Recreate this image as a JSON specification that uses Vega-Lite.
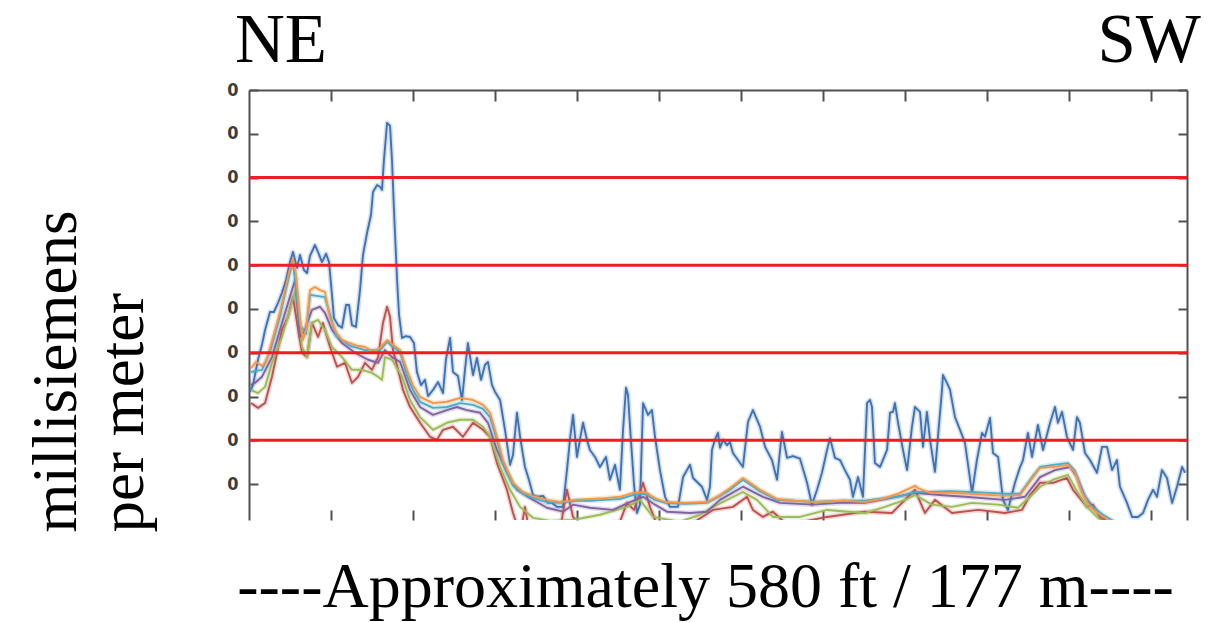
{
  "$schema": "https://vega.github.io/schema/vega-lite/v6.json",
  "width": 938,
  "height": 430,
  "autosize": {"type": "none"},
  "padding": {"left": 249, "top": 90, "right": 22, "bottom": 102},
  "background": "white",
  "config": {"view": {"stroke": null}, "axis": {"grid": false}},
  "resolve": {"axis": {"x": "independent", "y": "independent"}},
  "datasets": {
    "lines": [
      {"ch":"Channel 1","ft":0.6,"ms":31.1},{"ch":"Channel 1","ft":2.4,"ms":32.6},{"ch":"Channel 1","ft":5.5,"ms":38.4},{"ch":"Channel 1","ft":7.9,"ms":41.8},{"ch":"Channel 1","ft":9.8,"ms":45.2},{"ch":"Channel 1","ft":12.8,"ms":49.3},{"ch":"Channel 1","ft":15.2,"ms":49.3},{"ch":"Channel 1","ft":17.7,"ms":51.4},{"ch":"Channel 1","ft":20.1,"ms":53.7},{"ch":"Channel 1","ft":22.6,"ms":56.6},{"ch":"Channel 1","ft":25.0,"ms":60.7},{"ch":"Channel 1","ft":26.8,"ms":63.0},{"ch":"Channel 1","ft":29.3,"ms":59.4},{"ch":"Channel 1","ft":31.1,"ms":62.3},{"ch":"Channel 1","ft":33.5,"ms":58.9},{"ch":"Channel 1","ft":35.4,"ms":58.2},{"ch":"Channel 1","ft":37.2,"ms":62.1},{"ch":"Channel 1","ft":40.2,"ms":64.6},{"ch":"Channel 1","ft":42.1,"ms":63.0},{"ch":"Channel 1","ft":44.5,"ms":60.7},{"ch":"Channel 1","ft":47.0,"ms":62.6},{"ch":"Channel 1","ft":48.8,"ms":60.7},{"ch":"Channel 1","ft":50.6,"ms":53.2},{"ch":"Channel 1","ft":51.8,"ms":47.9},{"ch":"Channel 1","ft":54.3,"ms":46.3},{"ch":"Channel 1","ft":56.7,"ms":45.7},{"ch":"Channel 1","ft":59.2,"ms":50.9},{"ch":"Channel 1","ft":61.0,"ms":50.9},{"ch":"Channel 1","ft":62.8,"ms":46.3},{"ch":"Channel 1","ft":65.2,"ms":45.9},{"ch":"Channel 1","ft":67.7,"ms":54.3},{"ch":"Channel 1","ft":69.5,"ms":62.3},{"ch":"Channel 1","ft":72.0,"ms":67.4},{"ch":"Channel 1","ft":74.4,"ms":71.5},{"ch":"Channel 1","ft":75.6,"ms":76.7},{"ch":"Channel 1","ft":78.1,"ms":78.3},{"ch":"Channel 1","ft":79.9,"ms":77.9},{"ch":"Channel 1","ft":81.1,"ms":77.2},{"ch":"Channel 1","ft":82.3,"ms":84.0},{"ch":"Channel 1","ft":84.2,"ms":92.5},{"ch":"Channel 1","ft":86.0,"ms":91.8},{"ch":"Channel 1","ft":87.2,"ms":84.0},{"ch":"Channel 1","ft":88.4,"ms":72.6},{"ch":"Channel 1","ft":90.3,"ms":56.6},{"ch":"Channel 1","ft":91.5,"ms":48.6},{"ch":"Channel 1","ft":93.3,"ms":43.4},{"ch":"Channel 1","ft":95.7,"ms":43.8},{"ch":"Channel 1","ft":98.2,"ms":43.6},{"ch":"Channel 1","ft":100.6,"ms":42.2},{"ch":"Channel 1","ft":102.4,"ms":35.6},{"ch":"Channel 1","ft":104.9,"ms":32.6},{"ch":"Channel 1","ft":107.3,"ms":33.8},{"ch":"Channel 1","ft":109.2,"ms":30.1},{"ch":"Channel 1","ft":112.2,"ms":31.5},{"ch":"Channel 1","ft":115.3,"ms":33.3},{"ch":"Channel 1","ft":118.3,"ms":30.8},{"ch":"Channel 1","ft":120.1,"ms":38.4},{"ch":"Channel 1","ft":122.6,"ms":43.4},{"ch":"Channel 1","ft":124.4,"ms":35.6},{"ch":"Channel 1","ft":127.4,"ms":34.7},{"ch":"Channel 1","ft":129.9,"ms":29.2},{"ch":"Channel 1","ft":131.7,"ms":36.1},{"ch":"Channel 1","ft":133.5,"ms":42.2},{"ch":"Channel 1","ft":136.6,"ms":34.9},{"ch":"Channel 1","ft":139.0,"ms":38.8},{"ch":"Channel 1","ft":141.5,"ms":33.8},{"ch":"Channel 1","ft":143.9,"ms":37.2},{"ch":"Channel 1","ft":145.7,"ms":37.9},{"ch":"Channel 1","ft":148.2,"ms":32.6},{"ch":"Channel 1","ft":150.0,"ms":31.1},{"ch":"Channel 1","ft":153.1,"ms":29.2},{"ch":"Channel 1","ft":156.1,"ms":22.4},{"ch":"Channel 1","ft":159.2,"ms":14.4},{"ch":"Channel 1","ft":161.0,"ms":16.7},{"ch":"Channel 1","ft":163.4,"ms":26.3},{"ch":"Channel 1","ft":165.3,"ms":20.8},{"ch":"Channel 1","ft":168.3,"ms":13.9},{"ch":"Channel 1","ft":170.7,"ms":11.0},{"ch":"Channel 1","ft":173.2,"ms":7.5},{"ch":"Channel 1","ft":176.2,"ms":7.1},{"ch":"Channel 1","ft":179.3,"ms":7.3},{"ch":"Channel 1","ft":182.3,"ms":5.7},{"ch":"Channel 1","ft":184.8,"ms":5.7},{"ch":"Channel 1","ft":187.8,"ms":4.8},{"ch":"Channel 1","ft":191.5,"ms":4.8},{"ch":"Channel 1","ft":193.9,"ms":13.2},{"ch":"Channel 1","ft":195.7,"ms":20.1},{"ch":"Channel 1","ft":197.6,"ms":25.8},{"ch":"Channel 1","ft":200.0,"ms":16.2},{"ch":"Channel 1","ft":201.8,"ms":20.1},{"ch":"Channel 1","ft":203.7,"ms":24.0},{"ch":"Channel 1","ft":206.1,"ms":20.1},{"ch":"Channel 1","ft":207.9,"ms":17.8},{"ch":"Channel 1","ft":211.0,"ms":16.2},{"ch":"Channel 1","ft":214.0,"ms":13.9},{"ch":"Channel 1","ft":217.7,"ms":16.2},{"ch":"Channel 1","ft":220.1,"ms":11.0},{"ch":"Channel 1","ft":223.2,"ms":14.4},{"ch":"Channel 1","ft":226.2,"ms":8.7},{"ch":"Channel 1","ft":228.1,"ms":22.4},{"ch":"Channel 1","ft":229.9,"ms":32.0},{"ch":"Channel 1","ft":231.1,"ms":30.4},{"ch":"Channel 1","ft":232.9,"ms":20.1},{"ch":"Channel 1","ft":234.8,"ms":9.8},{"ch":"Channel 1","ft":236.6,"ms":3.4},{"ch":"Channel 1","ft":238.4,"ms":5.3},{"ch":"Channel 1","ft":240.3,"ms":28.5},{"ch":"Channel 1","ft":243.3,"ms":25.8},{"ch":"Channel 1","ft":245.7,"ms":26.9},{"ch":"Channel 1","ft":247.6,"ms":20.8},{"ch":"Channel 1","ft":250.6,"ms":13.2},{"ch":"Channel 1","ft":253.7,"ms":7.1},{"ch":"Channel 1","ft":256.7,"ms":4.8},{"ch":"Channel 1","ft":261.6,"ms":4.8},{"ch":"Channel 1","ft":264.7,"ms":11.6},{"ch":"Channel 1","ft":268.9,"ms":14.4},{"ch":"Channel 1","ft":270.8,"ms":11.4},{"ch":"Channel 1","ft":276.2,"ms":9.4},{"ch":"Channel 1","ft":279.3,"ms":6.4},{"ch":"Channel 1","ft":281.1,"ms":9.4},{"ch":"Channel 1","ft":282.3,"ms":17.8},{"ch":"Channel 1","ft":284.1,"ms":20.1},{"ch":"Channel 1","ft":286.0,"ms":21.7},{"ch":"Channel 1","ft":287.2,"ms":18.3},{"ch":"Channel 1","ft":289.1,"ms":20.1},{"ch":"Channel 1","ft":291.5,"ms":18.9},{"ch":"Channel 1","ft":293.3,"ms":19.6},{"ch":"Channel 1","ft":295.1,"ms":17.1},{"ch":"Channel 1","ft":298.2,"ms":15.5},{"ch":"Channel 1","ft":301.2,"ms":13.9},{"ch":"Channel 1","ft":304.3,"ms":24.2},{"ch":"Channel 1","ft":307.3,"ms":26.9},{"ch":"Channel 1","ft":311.6,"ms":23.1},{"ch":"Channel 1","ft":314.7,"ms":18.5},{"ch":"Channel 1","ft":318.9,"ms":15.5},{"ch":"Channel 1","ft":322.0,"ms":11.0},{"ch":"Channel 1","ft":325.0,"ms":21.9},{"ch":"Channel 1","ft":328.1,"ms":16.0},{"ch":"Channel 1","ft":331.7,"ms":16.4},{"ch":"Channel 1","ft":336.0,"ms":15.8},{"ch":"Channel 1","ft":340.3,"ms":10.3},{"ch":"Channel 1","ft":343.3,"ms":5.3},{"ch":"Channel 1","ft":346.4,"ms":8.7},{"ch":"Channel 1","ft":349.4,"ms":12.6},{"ch":"Channel 1","ft":352.5,"ms":17.8},{"ch":"Channel 1","ft":354.3,"ms":20.5},{"ch":"Channel 1","ft":357.3,"ms":16.0},{"ch":"Channel 1","ft":360.4,"ms":15.5},{"ch":"Channel 1","ft":363.4,"ms":13.2},{"ch":"Channel 1","ft":366.5,"ms":11.0},{"ch":"Channel 1","ft":368.3,"ms":7.1},{"ch":"Channel 1","ft":371.4,"ms":11.6},{"ch":"Channel 1","ft":374.4,"ms":7.1},{"ch":"Channel 1","ft":376.9,"ms":28.5},{"ch":"Channel 1","ft":378.7,"ms":29.2},{"ch":"Channel 1","ft":379.9,"ms":27.6},{"ch":"Channel 1","ft":381.7,"ms":14.8},{"ch":"Channel 1","ft":384.8,"ms":13.9},{"ch":"Channel 1","ft":389.1,"ms":17.8},{"ch":"Channel 1","ft":390.9,"ms":26.3},{"ch":"Channel 1","ft":392.7,"ms":26.5},{"ch":"Channel 1","ft":393.9,"ms":28.5},{"ch":"Channel 1","ft":395.8,"ms":24.0},{"ch":"Channel 1","ft":398.8,"ms":17.8},{"ch":"Channel 1","ft":401.3,"ms":13.2},{"ch":"Channel 1","ft":404.3,"ms":23.1},{"ch":"Channel 1","ft":406.1,"ms":27.6},{"ch":"Channel 1","ft":409.2,"ms":26.5},{"ch":"Channel 1","ft":411.0,"ms":18.5},{"ch":"Channel 1","ft":413.4,"ms":26.5},{"ch":"Channel 1","ft":415.3,"ms":20.1},{"ch":"Channel 1","ft":418.3,"ms":12.8},{"ch":"Channel 1","ft":422.6,"ms":31.5},{"ch":"Channel 1","ft":423.2,"ms":34.9},{"ch":"Channel 1","ft":425.6,"ms":33.1},{"ch":"Channel 1","ft":427.5,"ms":31.5},{"ch":"Channel 1","ft":430.5,"ms":25.3},{"ch":"Channel 1","ft":433.6,"ms":22.4},{"ch":"Channel 1","ft":436.6,"ms":19.4},{"ch":"Channel 1","ft":440.9,"ms":8.0},{"ch":"Channel 1","ft":443.9,"ms":15.5},{"ch":"Channel 1","ft":447.0,"ms":21.7},{"ch":"Channel 1","ft":448.8,"ms":20.8},{"ch":"Channel 1","ft":451.9,"ms":25.1},{"ch":"Channel 1","ft":453.7,"ms":17.1},{"ch":"Channel 1","ft":456.8,"ms":16.2},{"ch":"Channel 1","ft":459.8,"ms":6.4},{"ch":"Channel 1","ft":462.8,"ms":4.1},{"ch":"Channel 1","ft":467.1,"ms":10.3},{"ch":"Channel 1","ft":470.2,"ms":13.9},{"ch":"Channel 1","ft":472.0,"ms":15.5},{"ch":"Channel 1","ft":475.0,"ms":21.7},{"ch":"Channel 1","ft":477.5,"ms":16.2},{"ch":"Channel 1","ft":481.1,"ms":23.5},{"ch":"Channel 1","ft":484.2,"ms":17.8},{"ch":"Channel 1","ft":488.5,"ms":24.0},{"ch":"Channel 1","ft":491.5,"ms":27.6},{"ch":"Channel 1","ft":493.3,"ms":24.0},{"ch":"Channel 1","ft":495.8,"ms":26.5},{"ch":"Channel 1","ft":498.8,"ms":20.8},{"ch":"Channel 1","ft":502.5,"ms":17.8},{"ch":"Channel 1","ft":504.9,"ms":25.3},{"ch":"Channel 1","ft":506.7,"ms":24.0},{"ch":"Channel 1","ft":509.8,"ms":17.1},{"ch":"Channel 1","ft":512.8,"ms":15.5},{"ch":"Channel 1","ft":517.1,"ms":12.6},{"ch":"Channel 1","ft":520.2,"ms":18.5},{"ch":"Channel 1","ft":523.2,"ms":18.5},{"ch":"Channel 1","ft":526.3,"ms":13.2},{"ch":"Channel 1","ft":529.3,"ms":15.5},{"ch":"Channel 1","ft":531.1,"ms":9.4},{"ch":"Channel 1","ft":535.4,"ms":5.7},{"ch":"Channel 1","ft":538.5,"ms":2.5},{"ch":"Channel 1","ft":542.1,"ms":2.5},{"ch":"Channel 1","ft":545.2,"ms":3.4},{"ch":"Channel 1","ft":548.2,"ms":6.4},{"ch":"Channel 1","ft":551.3,"ms":8.7},{"ch":"Channel 1","ft":553.7,"ms":7.1},{"ch":"Channel 1","ft":556.7,"ms":13.2},{"ch":"Channel 1","ft":559.8,"ms":11.4},{"ch":"Channel 1","ft":562.9,"ms":5.7},{"ch":"Channel 1","ft":565.9,"ms":9.4},{"ch":"Channel 1","ft":569.0,"ms":13.9},{"ch":"Channel 1","ft":570.8,"ms":12.6},

      {"ch":"Channel 2","ft":1.2,"ms":28.5},{"ch":"Channel 2","ft":5.5,"ms":27.4},{"ch":"Channel 2","ft":9.8,"ms":28.5},{"ch":"Channel 2","ft":14.0,"ms":34.5},{"ch":"Channel 2","ft":20.1,"ms":45.2},{"ch":"Channel 2","ft":23.8,"ms":48.2},{"ch":"Channel 2","ft":26.8,"ms":52.7},{"ch":"Channel 2","ft":29.3,"ms":46.8},{"ch":"Channel 2","ft":32.3,"ms":40.0},{"ch":"Channel 2","ft":35.4,"ms":39.0},{"ch":"Channel 2","ft":38.4,"ms":46.8},{"ch":"Channel 2","ft":42.1,"ms":43.6},{"ch":"Channel 2","ft":45.1,"ms":46.8},{"ch":"Channel 2","ft":49.4,"ms":41.3},{"ch":"Channel 2","ft":53.7,"ms":36.8},{"ch":"Channel 2","ft":58.5,"ms":37.7},{"ch":"Channel 2","ft":62.8,"ms":33.1},{"ch":"Channel 2","ft":66.5,"ms":34.5},{"ch":"Channel 2","ft":70.7,"ms":37.7},{"ch":"Channel 2","ft":75.0,"ms":36.1},{"ch":"Channel 2","ft":78.7,"ms":39.0},{"ch":"Channel 2","ft":81.7,"ms":46.8},{"ch":"Channel 2","ft":84.2,"ms":50.5},{"ch":"Channel 2","ft":86.0,"ms":48.2},{"ch":"Channel 2","ft":87.8,"ms":40.6},{"ch":"Channel 2","ft":90.9,"ms":36.1},{"ch":"Channel 2","ft":93.9,"ms":31.5},{"ch":"Channel 2","ft":98.2,"ms":27.6},{"ch":"Channel 2","ft":104.3,"ms":24.0},{"ch":"Channel 2","ft":110.4,"ms":20.8},{"ch":"Channel 2","ft":114.6,"ms":20.1},{"ch":"Channel 2","ft":118.3,"ms":22.4},{"ch":"Channel 2","ft":124.4,"ms":23.1},{"ch":"Channel 2","ft":130.5,"ms":20.8},{"ch":"Channel 2","ft":136.6,"ms":24.0},{"ch":"Channel 2","ft":142.7,"ms":22.4},{"ch":"Channel 2","ft":147.0,"ms":20.8},{"ch":"Channel 2","ft":151.2,"ms":14.8},{"ch":"Channel 2","ft":157.3,"ms":8.7},{"ch":"Channel 2","ft":161.0,"ms":3.4},{"ch":"Channel 2","ft":163.4,"ms":0.7},{"ch":"Channel 2","ft":165.9,"ms":-0.5},{"ch":"Channel 2","ft":168.3,"ms":4.8},{"ch":"Channel 2","ft":170.7,"ms":-0.5},{"ch":"Channel 2","ft":189.6,"ms":-0.9},{"ch":"Channel 2","ft":192.7,"ms":6.4},{"ch":"Channel 2","ft":193.9,"ms":8.7},{"ch":"Channel 2","ft":197.6,"ms":2.5},{"ch":"Channel 2","ft":201.8,"ms":0.7},{"ch":"Channel 2","ft":226.2,"ms":1.4},{"ch":"Channel 2","ft":230.5,"ms":5.7},{"ch":"Channel 2","ft":234.8,"ms":4.1},{"ch":"Channel 2","ft":240.3,"ms":10.3},{"ch":"Channel 2","ft":244.5,"ms":4.8},{"ch":"Channel 2","ft":248.8,"ms":0.7},{"ch":"Channel 2","ft":268.9,"ms":0.7},{"ch":"Channel 2","ft":283.0,"ms":4.1},{"ch":"Channel 2","ft":295.1,"ms":4.8},{"ch":"Channel 2","ft":303.7,"ms":7.1},{"ch":"Channel 2","ft":307.3,"ms":4.1},{"ch":"Channel 2","ft":313.4,"ms":2.5},{"ch":"Channel 2","ft":319.5,"ms":3.7},{"ch":"Channel 2","ft":328.1,"ms":0.7},{"ch":"Channel 2","ft":352.5,"ms":2.5},{"ch":"Channel 2","ft":375.6,"ms":3.7},{"ch":"Channel 2","ft":392.1,"ms":3.4},{"ch":"Channel 2","ft":406.1,"ms":8.7},{"ch":"Channel 2","ft":412.2,"ms":3.4},{"ch":"Channel 2","ft":418.3,"ms":6.4},{"ch":"Channel 2","ft":428.7,"ms":3.4},{"ch":"Channel 2","ft":444.6,"ms":4.1},{"ch":"Channel 2","ft":461.0,"ms":3.4},{"ch":"Channel 2","ft":471.4,"ms":4.1},{"ch":"Channel 2","ft":476.3,"ms":7.5},{"ch":"Channel 2","ft":482.4,"ms":10.3},{"ch":"Channel 2","ft":490.3,"ms":10.3},{"ch":"Channel 2","ft":498.8,"ms":11.4},{"ch":"Channel 2","ft":502.5,"ms":8.7},{"ch":"Channel 2","ft":511.0,"ms":4.8},{"ch":"Channel 2","ft":514.7,"ms":5.3},{"ch":"Channel 2","ft":518.9,"ms":2.5},{"ch":"Channel 2","ft":523.2,"ms":0.2},

      {"ch":"Channel 3","ft":1.2,"ms":31.5},{"ch":"Channel 3","ft":5.5,"ms":30.8},{"ch":"Channel 3","ft":9.8,"ms":32.2},{"ch":"Channel 3","ft":14.0,"ms":37.7},{"ch":"Channel 3","ft":20.1,"ms":43.6},{"ch":"Channel 3","ft":26.2,"ms":51.4},{"ch":"Channel 3","ft":28.1,"ms":54.3},{"ch":"Channel 3","ft":32.3,"ms":41.3},{"ch":"Channel 3","ft":35.4,"ms":39.0},{"ch":"Channel 3","ft":38.4,"ms":46.8},{"ch":"Channel 3","ft":42.1,"ms":47.5},{"ch":"Channel 3","ft":46.3,"ms":45.2},{"ch":"Channel 3","ft":50.6,"ms":41.3},{"ch":"Channel 3","ft":56.7,"ms":39.0},{"ch":"Channel 3","ft":62.8,"ms":36.1},{"ch":"Channel 3","ft":68.9,"ms":36.1},{"ch":"Channel 3","ft":75.0,"ms":35.4},{"ch":"Channel 3","ft":78.7,"ms":34.5},{"ch":"Channel 3","ft":81.1,"ms":33.8},{"ch":"Channel 3","ft":82.9,"ms":39.0},{"ch":"Channel 3","ft":87.2,"ms":38.4},{"ch":"Channel 3","ft":93.3,"ms":34.5},{"ch":"Channel 3","ft":98.2,"ms":29.2},{"ch":"Channel 3","ft":104.3,"ms":25.3},{"ch":"Channel 3","ft":112.2,"ms":22.4},{"ch":"Channel 3","ft":120.7,"ms":24.0},{"ch":"Channel 3","ft":128.7,"ms":24.7},{"ch":"Channel 3","ft":136.6,"ms":24.7},{"ch":"Channel 3","ft":142.7,"ms":23.1},{"ch":"Channel 3","ft":147.0,"ms":20.8},{"ch":"Channel 3","ft":153.1,"ms":13.9},{"ch":"Channel 3","ft":159.2,"ms":8.7},{"ch":"Channel 3","ft":165.3,"ms":4.8},{"ch":"Channel 3","ft":173.2,"ms":2.3},{"ch":"Channel 3","ft":183.6,"ms":1.6},{"ch":"Channel 3","ft":197.6,"ms":1.8},{"ch":"Channel 3","ft":214.0,"ms":3.0},{"ch":"Channel 3","ft":230.5,"ms":4.8},{"ch":"Channel 3","ft":238.4,"ms":6.4},{"ch":"Channel 3","ft":246.4,"ms":2.5},{"ch":"Channel 3","ft":262.8,"ms":1.4},{"ch":"Channel 3","ft":275.0,"ms":3.0},{"ch":"Channel 3","ft":283.0,"ms":4.8},{"ch":"Channel 3","ft":301.2,"ms":8.2},{"ch":"Channel 3","ft":309.8,"ms":6.4},{"ch":"Channel 3","ft":319.5,"ms":2.5},{"ch":"Channel 3","ft":336.0,"ms":2.5},{"ch":"Channel 3","ft":352.5,"ms":4.1},{"ch":"Channel 3","ft":375.6,"ms":3.4},{"ch":"Channel 3","ft":387.8,"ms":4.8},{"ch":"Channel 3","ft":400.0,"ms":6.4},{"ch":"Channel 3","ft":406.1,"ms":7.5},{"ch":"Channel 3","ft":416.5,"ms":5.3},{"ch":"Channel 3","ft":428.7,"ms":4.8},{"ch":"Channel 3","ft":440.9,"ms":5.7},{"ch":"Channel 3","ft":456.8,"ms":5.3},{"ch":"Channel 3","ft":468.9,"ms":4.6},{"ch":"Channel 3","ft":476.3,"ms":7.1},{"ch":"Channel 3","ft":482.4,"ms":9.4},{"ch":"Channel 3","ft":490.3,"ms":11.0},{"ch":"Channel 3","ft":499.4,"ms":12.1},{"ch":"Channel 3","ft":505.5,"ms":8.0},{"ch":"Channel 3","ft":511.0,"ms":4.8},{"ch":"Channel 3","ft":517.1,"ms":2.5},{"ch":"Channel 3","ft":523.2,"ms":0.7},

      {"ch":"Channel 4","ft":1.2,"ms":32.6},{"ch":"Channel 4","ft":4.3,"ms":33.3},{"ch":"Channel 4","ft":7.9,"ms":34.5},{"ch":"Channel 4","ft":14.0,"ms":39.0},{"ch":"Channel 4","ft":20.1,"ms":46.8},{"ch":"Channel 4","ft":26.2,"ms":54.3},{"ch":"Channel 4","ft":28.1,"ms":56.6},{"ch":"Channel 4","ft":31.1,"ms":43.6},{"ch":"Channel 4","ft":34.1,"ms":45.2},{"ch":"Channel 4","ft":38.4,"ms":49.8},{"ch":"Channel 4","ft":43.3,"ms":50.5},{"ch":"Channel 4","ft":46.3,"ms":49.1},{"ch":"Channel 4","ft":50.6,"ms":45.2},{"ch":"Channel 4","ft":56.7,"ms":42.2},{"ch":"Channel 4","ft":64.6,"ms":40.0},{"ch":"Channel 4","ft":72.6,"ms":38.4},{"ch":"Channel 4","ft":78.7,"ms":37.7},{"ch":"Channel 4","ft":82.9,"ms":40.6},{"ch":"Channel 4","ft":87.2,"ms":39.0},{"ch":"Channel 4","ft":92.1,"ms":37.9},{"ch":"Channel 4","ft":98.2,"ms":31.5},{"ch":"Channel 4","ft":104.3,"ms":27.6},{"ch":"Channel 4","ft":112.2,"ms":25.8},{"ch":"Channel 4","ft":120.7,"ms":26.9},{"ch":"Channel 4","ft":126.8,"ms":27.6},{"ch":"Channel 4","ft":132.9,"ms":26.9},{"ch":"Channel 4","ft":140.9,"ms":26.3},{"ch":"Channel 4","ft":145.7,"ms":24.0},{"ch":"Channel 4","ft":151.2,"ms":17.8},{"ch":"Channel 4","ft":157.3,"ms":12.6},{"ch":"Channel 4","ft":163.4,"ms":8.7},{"ch":"Channel 4","ft":171.4,"ms":6.8},{"ch":"Channel 4","ft":181.7,"ms":4.6},{"ch":"Channel 4","ft":191.5,"ms":3.7},{"ch":"Channel 4","ft":197.6,"ms":5.3},{"ch":"Channel 4","ft":207.9,"ms":4.6},{"ch":"Channel 4","ft":222.0,"ms":4.1},{"ch":"Channel 4","ft":232.3,"ms":5.9},{"ch":"Channel 4","ft":240.3,"ms":7.1},{"ch":"Channel 4","ft":247.6,"ms":5.3},{"ch":"Channel 4","ft":254.9,"ms":3.7},{"ch":"Channel 4","ft":268.9,"ms":3.4},{"ch":"Channel 4","ft":279.3,"ms":3.7},{"ch":"Channel 4","ft":287.2,"ms":6.4},{"ch":"Channel 4","ft":301.2,"ms":9.4},{"ch":"Channel 4","ft":313.4,"ms":7.1},{"ch":"Channel 4","ft":323.8,"ms":5.7},{"ch":"Channel 4","ft":343.9,"ms":5.3},{"ch":"Channel 4","ft":360.4,"ms":5.7},{"ch":"Channel 4","ft":375.6,"ms":5.7},{"ch":"Channel 4","ft":390.9,"ms":6.8},{"ch":"Channel 4","ft":406.1,"ms":8.0},{"ch":"Channel 4","ft":421.4,"ms":7.5},{"ch":"Channel 4","ft":436.6,"ms":7.1},{"ch":"Channel 4","ft":461.0,"ms":6.4},{"ch":"Channel 4","ft":473.2,"ms":7.1},{"ch":"Channel 4","ft":482.4,"ms":11.6},{"ch":"Channel 4","ft":491.5,"ms":13.2},{"ch":"Channel 4","ft":500.7,"ms":13.9},{"ch":"Channel 4","ft":504.9,"ms":11.6},{"ch":"Channel 4","ft":509.8,"ms":7.1},{"ch":"Channel 4","ft":515.9,"ms":4.1},{"ch":"Channel 4","ft":522.0,"ms":1.8},{"ch":"Channel 4","ft":528.1,"ms":0.2},

      {"ch":"Channel 5","ft":1.2,"ms":35.6},{"ch":"Channel 5","ft":7.9,"ms":36.1},{"ch":"Channel 5","ft":12.8,"ms":40.2},{"ch":"Channel 5","ft":18.9,"ms":48.4},{"ch":"Channel 5","ft":24.4,"ms":57.5},{"ch":"Channel 5","ft":26.8,"ms":60.7},{"ch":"Channel 5","ft":31.1,"ms":46.3},{"ch":"Channel 5","ft":34.8,"ms":44.3},{"ch":"Channel 5","ft":37.2,"ms":53.2},{"ch":"Channel 5","ft":46.3,"ms":52.7},{"ch":"Channel 5","ft":53.1,"ms":43.8},{"ch":"Channel 5","ft":61.6,"ms":41.6},{"ch":"Channel 5","ft":70.7,"ms":40.6},{"ch":"Channel 5","ft":79.9,"ms":40.6},{"ch":"Channel 5","ft":84.2,"ms":42.5},{"ch":"Channel 5","ft":87.8,"ms":41.3},{"ch":"Channel 5","ft":92.1,"ms":40.2},{"ch":"Channel 5","ft":96.3,"ms":34.9},{"ch":"Channel 5","ft":100.0,"ms":31.5},{"ch":"Channel 5","ft":104.3,"ms":28.8},{"ch":"Channel 5","ft":112.2,"ms":27.4},{"ch":"Channel 5","ft":120.7,"ms":27.6},{"ch":"Channel 5","ft":128.7,"ms":28.5},{"ch":"Channel 5","ft":136.6,"ms":28.1},{"ch":"Channel 5","ft":142.7,"ms":27.2},{"ch":"Channel 5","ft":147.0,"ms":25.3},{"ch":"Channel 5","ft":151.2,"ms":20.1},{"ch":"Channel 5","ft":154.9,"ms":14.8},{"ch":"Channel 5","ft":161.0,"ms":9.6},{"ch":"Channel 5","ft":167.1,"ms":7.8},{"ch":"Channel 5","ft":173.2,"ms":6.8},{"ch":"Channel 5","ft":181.7,"ms":5.9},{"ch":"Channel 5","ft":189.6,"ms":5.7},{"ch":"Channel 5","ft":198.8,"ms":6.2},{"ch":"Channel 5","ft":207.9,"ms":6.2},{"ch":"Channel 5","ft":217.1,"ms":6.4},{"ch":"Channel 5","ft":226.2,"ms":6.6},{"ch":"Channel 5","ft":234.2,"ms":7.5},{"ch":"Channel 5","ft":241.5,"ms":7.8},{"ch":"Channel 5","ft":247.6,"ms":6.4},{"ch":"Channel 5","ft":253.7,"ms":5.7},{"ch":"Channel 5","ft":265.9,"ms":5.5},{"ch":"Channel 5","ft":279.3,"ms":5.7},{"ch":"Channel 5","ft":287.2,"ms":7.3},{"ch":"Channel 5","ft":293.3,"ms":8.7},{"ch":"Channel 5","ft":301.2,"ms":11.0},{"ch":"Channel 5","ft":311.6,"ms":8.4},{"ch":"Channel 5","ft":322.0,"ms":6.4},{"ch":"Channel 5","ft":345.2,"ms":5.9},{"ch":"Channel 5","ft":362.2,"ms":6.2},{"ch":"Channel 5","ft":375.6,"ms":6.2},{"ch":"Channel 5","ft":395.8,"ms":7.1},{"ch":"Channel 5","ft":406.1,"ms":8.2},{"ch":"Channel 5","ft":415.3,"ms":8.2},{"ch":"Channel 5","ft":427.5,"ms":8.4},{"ch":"Channel 5","ft":439.7,"ms":8.2},{"ch":"Channel 5","ft":451.9,"ms":8.0},{"ch":"Channel 5","ft":461.0,"ms":7.8},{"ch":"Channel 5","ft":470.2,"ms":7.8},{"ch":"Channel 5","ft":478.1,"ms":11.9},{"ch":"Channel 5","ft":482.4,"ms":13.9},{"ch":"Channel 5","ft":490.3,"ms":14.4},{"ch":"Channel 5","ft":499.4,"ms":14.8},{"ch":"Channel 5","ft":503.7,"ms":13.0},{"ch":"Channel 5","ft":508.0,"ms":8.4},{"ch":"Channel 5","ft":512.8,"ms":5.3},{"ch":"Channel 5","ft":520.8,"ms":3.0},{"ch":"Channel 5","ft":526.9,"ms":1.6},{"ch":"Channel 5","ft":534.2,"ms":0.2},

      {"ch":"Channel 6","ft":1.2,"ms":36.5},{"ch":"Channel 6","ft":4.3,"ms":37.9},{"ch":"Channel 6","ft":7.9,"ms":37.0},{"ch":"Channel 6","ft":10.4,"ms":37.9},{"ch":"Channel 6","ft":12.8,"ms":41.1},{"ch":"Channel 6","ft":15.9,"ms":45.2},{"ch":"Channel 6","ft":18.9,"ms":49.3},{"ch":"Channel 6","ft":22.0,"ms":54.3},{"ch":"Channel 6","ft":24.4,"ms":58.4},{"ch":"Channel 6","ft":26.8,"ms":61.6},{"ch":"Channel 6","ft":28.7,"ms":57.8},{"ch":"Channel 6","ft":31.1,"ms":47.5},{"ch":"Channel 6","ft":32.9,"ms":42.9},{"ch":"Channel 6","ft":34.8,"ms":45.2},{"ch":"Channel 6","ft":37.2,"ms":54.3},{"ch":"Channel 6","ft":40.2,"ms":55.0},{"ch":"Channel 6","ft":43.3,"ms":54.3},{"ch":"Channel 6","ft":46.3,"ms":53.9},{"ch":"Channel 6","ft":49.4,"ms":47.9},{"ch":"Channel 6","ft":53.1,"ms":44.7},{"ch":"Channel 6","ft":56.7,"ms":42.9},{"ch":"Channel 6","ft":61.6,"ms":42.2},{"ch":"Channel 6","ft":65.9,"ms":41.6},{"ch":"Channel 6","ft":70.7,"ms":41.3},{"ch":"Channel 6","ft":75.6,"ms":40.2},{"ch":"Channel 6","ft":79.9,"ms":41.1},{"ch":"Channel 6","ft":84.2,"ms":42.9},{"ch":"Channel 6","ft":87.8,"ms":41.8},{"ch":"Channel 6","ft":92.1,"ms":40.6},{"ch":"Channel 6","ft":96.3,"ms":36.1},{"ch":"Channel 6","ft":100.0,"ms":32.6},{"ch":"Channel 6","ft":104.3,"ms":29.9},{"ch":"Channel 6","ft":112.2,"ms":28.5},{"ch":"Channel 6","ft":120.7,"ms":28.8},{"ch":"Channel 6","ft":128.7,"ms":29.7},{"ch":"Channel 6","ft":136.6,"ms":29.2},{"ch":"Channel 6","ft":142.7,"ms":28.1},{"ch":"Channel 6","ft":147.0,"ms":26.3},{"ch":"Channel 6","ft":151.2,"ms":20.8},{"ch":"Channel 6","ft":154.9,"ms":15.5},{"ch":"Channel 6","ft":161.0,"ms":10.3},{"ch":"Channel 6","ft":167.1,"ms":8.2},{"ch":"Channel 6","ft":173.2,"ms":7.3},{"ch":"Channel 6","ft":181.7,"ms":6.4},{"ch":"Channel 6","ft":189.6,"ms":5.9},{"ch":"Channel 6","ft":198.8,"ms":6.4},{"ch":"Channel 6","ft":207.9,"ms":6.6},{"ch":"Channel 6","ft":217.1,"ms":6.8},{"ch":"Channel 6","ft":226.2,"ms":7.1},{"ch":"Channel 6","ft":234.2,"ms":8.0},{"ch":"Channel 6","ft":241.5,"ms":8.2},{"ch":"Channel 6","ft":247.6,"ms":6.8},{"ch":"Channel 6","ft":253.7,"ms":5.9},{"ch":"Channel 6","ft":265.9,"ms":5.7},{"ch":"Channel 6","ft":279.3,"ms":5.9},{"ch":"Channel 6","ft":287.2,"ms":7.5},{"ch":"Channel 6","ft":293.3,"ms":9.1},{"ch":"Channel 6","ft":301.2,"ms":11.4},{"ch":"Channel 6","ft":306.7,"ms":10.0},{"ch":"Channel 6","ft":311.6,"ms":8.7},{"ch":"Channel 6","ft":322.0,"ms":6.6},{"ch":"Channel 6","ft":333.0,"ms":6.2},{"ch":"Channel 6","ft":345.2,"ms":5.9},{"ch":"Channel 6","ft":362.2,"ms":6.2},{"ch":"Channel 6","ft":375.6,"ms":5.9},{"ch":"Channel 6","ft":386.0,"ms":6.6},{"ch":"Channel 6","ft":395.8,"ms":7.8},{"ch":"Channel 6","ft":406.1,"ms":9.6},{"ch":"Channel 6","ft":408.0,"ms":9.1},{"ch":"Channel 6","ft":415.3,"ms":8.0},{"ch":"Channel 6","ft":427.5,"ms":8.0},{"ch":"Channel 6","ft":439.7,"ms":7.8},{"ch":"Channel 6","ft":451.9,"ms":7.5},{"ch":"Channel 6","ft":461.0,"ms":7.3},{"ch":"Channel 6","ft":470.2,"ms":7.5},{"ch":"Channel 6","ft":478.1,"ms":11.6},{"ch":"Channel 6","ft":482.4,"ms":13.7},{"ch":"Channel 6","ft":490.3,"ms":13.9},{"ch":"Channel 6","ft":499.4,"ms":14.4},{"ch":"Channel 6","ft":503.7,"ms":12.6},{"ch":"Channel 6","ft":508.0,"ms":8.0},{"ch":"Channel 6","ft":512.8,"ms":4.8},{"ch":"Channel 6","ft":520.8,"ms":2.5},{"ch":"Channel 6","ft":526.9,"ms":1.4},{"ch":"Channel 6","ft":534.2,"ms":0.0}
    ],
    "limits": [{"ms": 20}, {"ms": 40}, {"ms": 60}, {"ms": 80}],
    "ends": [{"end": "NE", "ft": 0}, {"end": "SW", "ft": 572}]
  },
  "layer": [
    {
      "data": {"name": "lines"},
      "mark": {"type": "line", "clip": true, "strokeWidth": 5, "opacity": 0.22, "strokeJoin": "round"},
      "encoding": {
        "x": {
          "field": "ft", "type": "quantitative",
          "scale": {"domain": [0, 572], "nice": false, "zero": false},
          "axis": {
            "orient": "top", "values": [50, 100, 150, 200, 250, 300, 350, 400, 450, 500, 550],
            "labels": false, "title": null, "domain": true, "domainColor": "#505050", "domainWidth": 2,
            "ticks": true, "tickColor": "#505050", "tickWidth": 2, "tickSize": -11
          }
        },
        "y": {
          "field": "ms", "type": "quantitative",
          "scale": {"domain": [1.8, 100], "nice": false, "zero": false},
          "axis": {
            "orient": "right", "values": [10, 20, 30, 40, 50, 60, 70, 80, 90, 100],
            "labels": false, "title": null, "domain": true, "domainColor": "#505050", "domainWidth": 2,
            "ticks": true, "tickColor": "#505050", "tickWidth": 2, "tickSize": -9
          }
        },
        "color": {
          "field": "ch", "type": "nominal", "legend": null,
          "scale": {
            "domain": ["Channel 1", "Channel 2", "Channel 3", "Channel 4", "Channel 5", "Channel 6"],
            "range": ["#3f72b5", "#c0504d", "#9bbb59", "#8064a2", "#4bacc6", "#f79646"]
          }
        }
      }
    },
    {
      "data": {"name": "lines"},
      "mark": {"type": "line", "clip": true, "strokeWidth": 1.9, "strokeJoin": "round"},
      "encoding": {
        "x": {
          "field": "ft", "type": "quantitative",
          "axis": {
            "orient": "bottom", "values": [50, 100, 150, 200, 250, 300, 350, 400, 450, 500, 550],
            "labels": false, "domain": false,
            "ticks": true, "tickColor": "#505050", "tickWidth": 2, "tickSize": -10,
            "title": "----Approximately 580 ft / 177 m----",
            "titleFont": "Liberation Serif", "titleFontSize": 64, "titleFontWeight": "normal", "titleColor": "#000000",
            "titleX": 456, "titleY": 86, "titleAlign": "center", "titleBaseline": "alphabetic"
          }
        },
        "y": {
          "field": "ms", "type": "quantitative",
          "axis": {
            "orient": "left", "values": [10, 20, 30, 40, 50, 60, 70, 80, 90, 100],
            "domain": true, "domainColor": "#505050", "domainWidth": 2,
            "ticks": true, "tickColor": "#505050", "tickWidth": 2, "tickSize": -9,
            "labels": true, "labelExpr": "'0'", "labelFont": "Liberation Sans Narrow, DejaVu Sans Condensed, Liberation Sans",
            "labelFontSize": 18, "labelFontWeight": "bold", "labelColor": "#3c3c3c", "labelPadding": 20,
            "title": ["millisiemens", "per meter"],
            "titleFont": "Liberation Serif", "titleFontSize": 63, "titleFontWeight": "normal", "titleColor": "#000000",
            "titleAngle": -90, "titleAlign": "left", "titleBaseline": "alphabetic", "titleLineHeight": 67,
            "titleX": -174, "titleY": 442
          }
        },
        "color": {"field": "ch", "type": "nominal", "legend": null}
      }
    },
    {
      "data": {"name": "limits"},
      "mark": {"type": "rule", "color": "#f01c24", "strokeWidth": 3},
      "encoding": {
        "y": {"field": "ms", "type": "quantitative", "axis": null}
      }
    },
    {
      "data": {"name": "ends"},
      "transform": [{"filter": "datum.end === 'NE'"}],
      "mark": {"type": "text", "align": "left", "baseline": "alphabetic", "font": "Liberation Serif", "fontSize": 69, "color": "#000000", "dx": -14, "dy": -28},
      "encoding": {
        "x": {"field": "ft", "type": "quantitative", "axis": null},
        "y": {"datum": 100, "type": "quantitative", "axis": null},
        "text": {"field": "end"}
      }
    },
    {
      "data": {"name": "ends"},
      "transform": [{"filter": "datum.end === 'SW'"}],
      "mark": {"type": "text", "align": "right", "baseline": "alphabetic", "font": "Liberation Serif", "fontSize": 69, "color": "#000000", "dx": 14, "dy": -28},
      "encoding": {
        "x": {"field": "ft", "type": "quantitative", "axis": null},
        "y": {"datum": 100, "type": "quantitative", "axis": null},
        "text": {"field": "end"}
      }
    }
  ]
}
